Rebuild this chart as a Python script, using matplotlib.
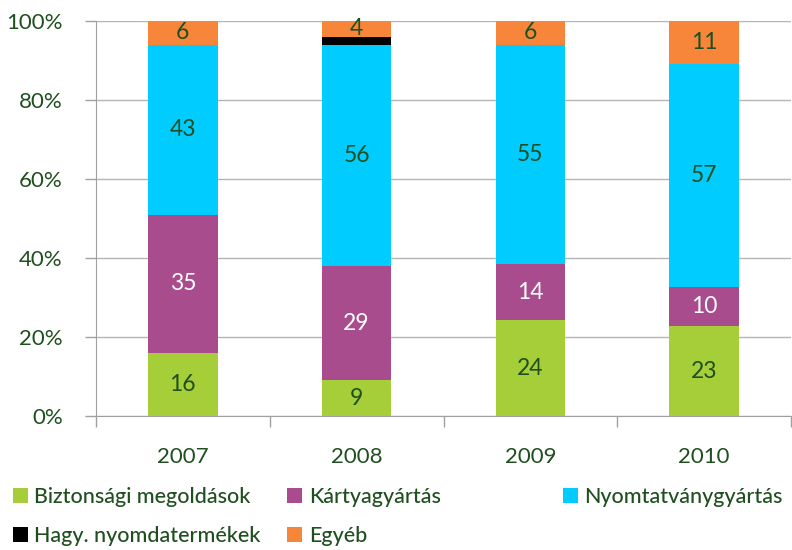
"""Nyomdaipari árbevétel-megoszlás 2007-2010, 100%-ra halmozott oszlopdiagram."""

import matplotlib

matplotlib.use("Agg")
import matplotlib.pyplot as plt
from matplotlib.patches import Patch
from matplotlib.ticker import PercentFormatter

plt.rcParams["font.family"] = ["Lato", "DejaVu Sans"]

# Adatok (százalék, a címkék értékei).
years = ["2007", "2008", "2009", "2010"]
biztonsagi = [16, 9, 24, 23]
kartya = [35, 29, 14, 10]
nyomtatvany = [43, 56, 55, 57]
hagy = [0, 2, 0, 0]
egyeb = [6, 4, 6, 11]

series_names = ["Biztonsági megoldások", "Kártyagyártás", "Nyomtatványgyártás",
                "Hagy. nyomdatermékek", "Egyéb"]
series_values = [biztonsagi, kartya, nyomtatvany, hagy, egyeb]
colors = ["#A6CE39", "#A94C8E", "#00CCFF", "#000000", "#F7863B"]
label_colors = ["#1F4F1F", "white", "#1F4F1F", None, "#1F4F1F"]
TEXT = "#1F4F1F"

fig = plt.figure(figsize=(7.92, 5.5), dpi=100)
ax = fig.add_axes([96 / 792, (550 - 416) / 550, 695 / 792, 395 / 550])

x = list(range(len(years)))
totals = [sum(s[i] for s in series_values) for i in x]
bottoms = [0.0] * len(years)
for name, vals, col, lcol in zip(series_names, series_values, colors, label_colors):
    shares = [v / t for v, t in zip(vals, totals)]
    ax.bar(x, shares, width=0.40, bottom=bottoms, color=col, label=name, zorder=3)
    if lcol is not None:
        for i, (v, s) in enumerate(zip(vals, shares)):
            if v > 0:
                ax.text(i, bottoms[i] + s / 2, str(v), ha="center", va="center",
                        color=lcol, fontsize=16.5, zorder=4)
    bottoms = [b + s for b, s in zip(bottoms, shares)]

ax.set_xlim(-0.5, len(years) - 0.5)
ax.set_ylim(0, 1)
ax.set_yticks([0, 0.2, 0.4, 0.6, 0.8, 1.0])
ax.yaxis.set_major_formatter(PercentFormatter(1.0, decimals=0))
ax.set_xticks(x)
ax.set_xticklabels(years)
ax.set_xticks([-0.5, 0.5, 1.5, 2.5, 3.5], minor=True)
ax.tick_params(axis="x", which="major", length=0, pad=22, labelsize=16, labelcolor=TEXT)
ax.tick_params(axis="x", which="minor", length=8, color="#A0A0A0", width=1)
ax.tick_params(axis="y", length=8, color="#A0A0A0", width=1, pad=16,
               labelsize=16, labelcolor=TEXT)
ax.grid(axis="y", color="#B5B5B5", linewidth=1, zorder=0)
for side in ["top", "right"]:
    ax.spines[side].set_visible(False)
for side in ["left", "bottom"]:
    ax.spines[side].set_color("#A0A0A0")

# Jelmagyarázat: három oszlop, soronként kitöltve.
handles = [Patch(facecolor=c, edgecolor="none") for c in colors]
columns = [([0, 3], 0.005), ([1, 4], 0.352), ([2], 0.700)]
for idx, xpos in columns:
    fig.legend([handles[i] for i in idx], [series_names[i] for i in idx],
               loc="upper left", bbox_to_anchor=(xpos, 0.13), frameon=False,
               labelcolor=TEXT, handlelength=0.7, handleheight=0.7,
               handletextpad=0.3, labelspacing=0.9, borderaxespad=0,
               prop={"weight": "medium", "size": 15.5})

fig.savefig("out.png", dpi=100)
